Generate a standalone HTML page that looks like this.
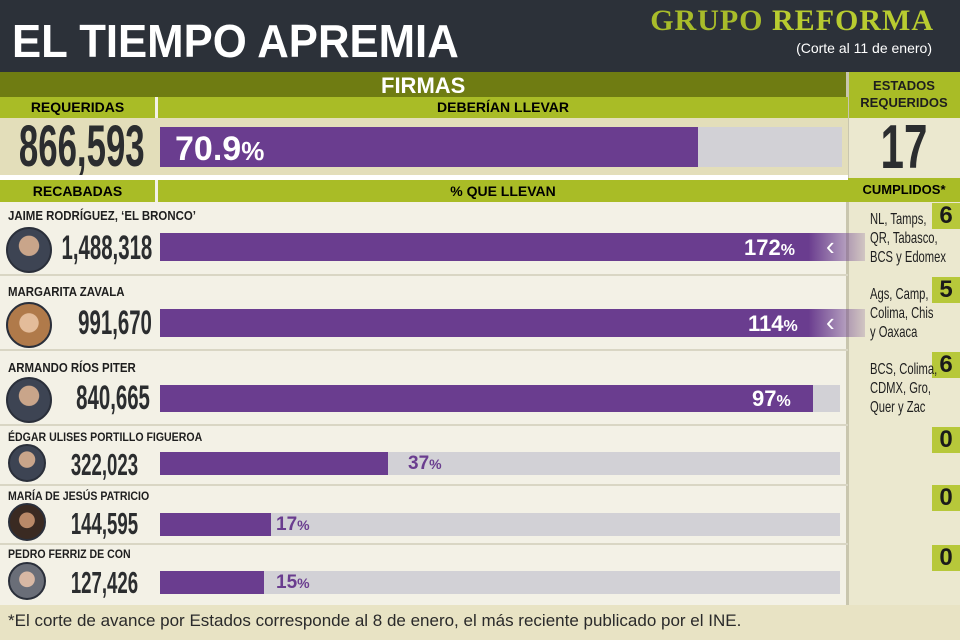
<!DOCTYPE html>
<html><head><meta charset="utf-8"><style>
*{margin:0;padding:0;box-sizing:border-box}
body{width:960px;height:640px;overflow:hidden;background:#f3f1e6;font-family:"Liberation Sans",sans-serif;position:relative}
div{position:absolute}
.b{font-weight:bold}
.num{font-weight:bold;color:#2b2d2f;transform-origin:right center;transform:scaleX(0.6);white-space:nowrap;text-align:right}
.name{font-weight:bold;font-size:13px;color:#1e1e1e;transform:scaleX(0.88);transform-origin:left center;white-space:nowrap;left:8px}
.pur{background:#6a3d8f}
.gry{background:#d2d1d6}
.pct{color:#fff;font-weight:bold;font-size:22px}
.pct small{font-size:16px}
.av{border-radius:50%;background:radial-gradient(circle at 50% 40%,#c9a58a 0 30%,#3d4453 32%);border:2px solid #2a2f3a}
.sep{left:0;width:848px;height:2px;background:#d9d6c4}
.cn{right:0;width:28px;height:26px;background:#b7c83a;font-weight:bold;font-size:24px;text-align:center;line-height:26px;color:#1a1a1a}
.st{left:870px;font-size:16px;line-height:19px;color:#1e1e1e;transform:scaleX(0.7);transform-origin:left top;white-space:nowrap}
</style></head><body>
<div style="left:0;top:0;width:960px;height:72px;background:#2c3139"></div>
<div class="b" style="left:12px;top:14px;font-size:46px;color:#fff;transform:scaleX(0.95);transform-origin:left">EL TIEMPO APREMIA</div>
<div style="right:26px;top:4px;font-family:'Liberation Serif',serif;font-size:30px;color:#a8bc2a;font-weight:bold;letter-spacing:1px">GRUPO <span style="color:#b8cc30">REFORMA</span></div>
<div style="right:28px;top:40px;font-size:14px;color:#fff">(Corte al 11 de enero)</div>

<div style="left:0;top:72px;width:848px;height:25px;background:#6f7c12"></div>
<div class="b" style="left:381px;top:73px;font-size:22px;color:#fff">FIRMAS</div>
<div style="left:848px;top:72px;width:112px;height:533px;background:#ebe8cf"></div>
<div style="left:848px;top:72px;width:112px;height:46px;background:#a9bc26"></div>
<div class="b" style="left:848px;top:77px;width:112px;text-align:center;font-size:13px;line-height:17px;color:#1e1e1e">ESTADOS<br>REQUERIDOS</div>
<div style="left:846px;top:72px;width:3px;height:533px;background:#c9c6ae"></div>

<div style="left:0;top:97px;width:155px;height:21px;background:#a9bc26"></div>
<div style="left:158px;top:97px;width:690px;height:21px;background:#a9bc26"></div>
<div class="b" style="left:0;top:99px;width:155px;text-align:center;font-size:14px">REQUERIDAS</div>
<div class="b" style="left:158px;top:99px;width:690px;text-align:center;font-size:14px">DEBERÍAN LLEVAR</div>
<div style="left:0;top:118px;width:848px;height:57px;background:#e3deba"></div>
<div class="num" style="right:815px;top:113px;font-size:58px">866,593</div>
<div class="gry" style="left:160px;top:127px;width:682px;height:40px"></div>
<div class="pur" style="left:160px;top:127px;width:538px;height:40px"></div>
<div class="pct" style="left:175px;top:130px;font-size:34px">70.9<small style="font-size:26px">%</small></div>
<div class="num" style="left:848px;width:112px;top:112px;font-size:62px;text-align:center;transform:scaleX(0.68);transform-origin:center">17</div>

<div style="left:0;top:175px;width:848px;height:5px;background:#fff"></div>
<div style="left:0;top:180px;width:155px;height:22px;background:#a9bc26"></div>
<div style="left:158px;top:180px;width:690px;height:22px;background:#a9bc26"></div>
<div style="left:848px;top:178px;width:112px;height:24px;background:#a9bc26"></div>
<div class="b" style="left:0;top:183px;width:155px;text-align:center;font-size:14px">RECABADAS</div>
<div class="b" style="left:158px;top:183px;width:690px;text-align:center;font-size:14px">% QUE LLEVAN</div>
<div class="b" style="left:848px;top:182px;width:112px;text-align:center;font-size:13px">CUMPLIDOS*</div>

<!-- row 1 -->
<div class="name" style="top:208px">JAIME RODRÍGUEZ, ‘EL BRONCO’</div>
<div class="av" style="left:6px;top:227px;width:46px;height:46px"></div>
<div class="num" style="right:808px;top:229px;font-size:34px">1,488,318</div>
<div style="left:160px;top:233px;width:705px;height:28px;background:linear-gradient(90deg,#6a3d8f 0,#6a3d8f 92%,rgba(106,61,143,0.2) 100%)"></div>
<div style="left:826px;top:233px;width:10px;height:28px;color:#fff;font-size:26px;line-height:26px">‹</div>
<div class="pct" style="left:744px;top:235px">172<small>%</small></div>
<div class="sep" style="top:274px"></div>
<!-- row 2 -->
<div class="name" style="top:284px">MARGARITA ZAVALA</div>
<div class="av" style="left:6px;top:302px;width:46px;height:46px;background:radial-gradient(circle at 50% 45%,#e3bc9a 0 30%,#b07a4a 32%)"></div>
<div class="num" style="right:808px;top:304px;font-size:34px">991,670</div>
<div style="left:160px;top:309px;width:705px;height:28px;background:linear-gradient(90deg,#6a3d8f 0,#6a3d8f 92%,rgba(106,61,143,0.2) 100%)"></div>
<div style="left:826px;top:309px;width:10px;height:28px;color:#fff;font-size:26px;line-height:26px">‹</div>
<div class="pct" style="left:748px;top:311px">114<small>%</small></div>
<div class="sep" style="top:349px"></div>
<!-- row 3 -->
<div class="name" style="top:360px">ARMANDO RÍOS PITER</div>
<div class="av" style="left:6px;top:377px;width:46px;height:46px"></div>
<div class="num" style="right:810px;top:379px;font-size:34px">840,665</div>
<div class="gry" style="left:160px;top:385px;width:680px;height:27px"></div>
<div class="pur" style="left:160px;top:385px;width:653px;height:27px"></div>
<div class="pct" style="left:752px;top:386px">97<small>%</small></div>
<div class="sep" style="top:424px"></div>
<!-- row 4 -->
<div class="name" style="top:430px;font-size:12px">ÉDGAR ULISES PORTILLO FIGUEROA</div>
<div class="av" style="left:8px;top:444px;width:38px;height:38px"></div>
<div class="num" style="right:822px;top:447px;font-size:31px">322,023</div>
<div class="gry" style="left:160px;top:452px;width:680px;height:23px"></div>
<div class="pur" style="left:160px;top:452px;width:228px;height:23px"></div>
<div class="pct" style="left:408px;top:453px;color:#6a3d8f;font-size:19px">37<small style="font-size:14px">%</small></div>
<div class="sep" style="top:484px"></div>
<!-- row 5 -->
<div class="name" style="top:489px;font-size:12px">MARÍA DE JESÚS PATRICIO</div>
<div class="av" style="left:8px;top:503px;width:38px;height:38px;background:radial-gradient(circle at 50% 45%,#b98968 0 30%,#3a2a22 32%)"></div>
<div class="num" style="right:822px;top:506px;font-size:31px">144,595</div>
<div class="gry" style="left:160px;top:513px;width:680px;height:23px"></div>
<div class="pur" style="left:160px;top:513px;width:111px;height:23px"></div>
<div class="pct" style="left:276px;top:514px;color:#6a3d8f;font-size:19px">17<small style="font-size:14px">%</small></div>
<div class="sep" style="top:543px"></div>
<!-- row 6 -->
<div class="name" style="top:547px;font-size:12px">PEDRO FERRIZ DE CON</div>
<div class="av" style="left:8px;top:562px;width:38px;height:38px;background:radial-gradient(circle at 50% 45%,#d8b8a4 0 30%,#6a6e78 32%)"></div>
<div class="num" style="right:822px;top:565px;font-size:31px">127,426</div>
<div class="gry" style="left:160px;top:571px;width:680px;height:23px"></div>
<div class="pur" style="left:160px;top:571px;width:104px;height:23px"></div>
<div class="pct" style="left:276px;top:572px;color:#6a3d8f;font-size:19px">15<small style="font-size:14px">%</small></div>

<!-- states -->
<div class="cn" style="top:203px">6</div>
<div class="st" style="top:210px">NL, Tamps,<br>QR, Tabasco,<br>BCS y Edomex</div>
<div class="cn" style="top:277px">5</div>
<div class="st" style="top:285px">Ags, Camp,<br>Colima, Chis<br>y Oaxaca</div>
<div class="cn" style="top:352px">6</div>
<div class="st" style="top:360px">BCS, Colima,<br>CDMX, Gro,<br>Quer y Zac</div>
<div class="cn" style="top:427px">0</div>
<div class="cn" style="top:485px">0</div>
<div class="cn" style="top:545px">0</div>

<div style="left:0;top:605px;width:960px;height:35px;background:#e8e3c4"></div>
<div style="left:8px;top:611px;font-size:17px;color:#2a2a2a">*El corte de avance por Estados corresponde al 8 de enero, el más reciente publicado por el INE.</div>
</body></html>
